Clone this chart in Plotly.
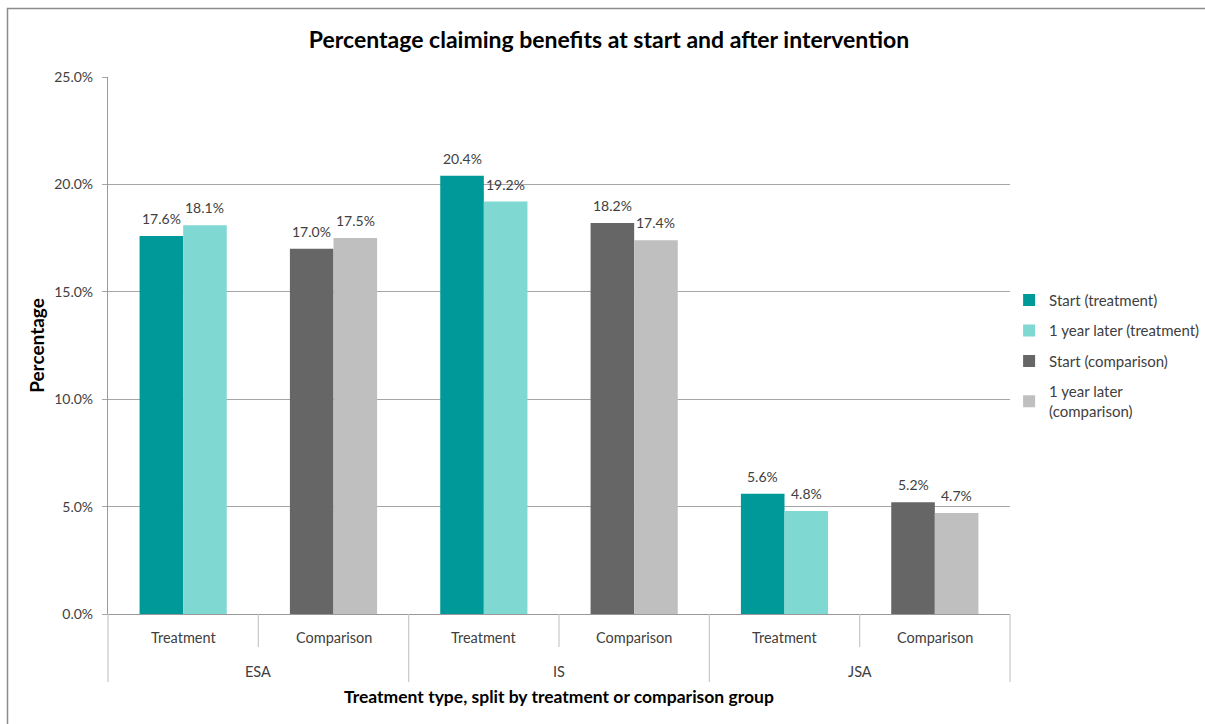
import plotly.graph_objects as go

# ---- data ----
groups = ["ESA", "ESA", "IS", "IS", "JSA", "JSA"]
subgroups = ["Treatment", "Comparison", "Treatment", "Comparison", "Treatment", "Comparison"]
group_names = ["ESA", "IS", "JSA"]

series_names = ["Start (treatment)", "1 year later (treatment)",
                "Start (comparison)", "1 year later<br>(comparison)"]
# treatment categories (indices 0, 2, 4)
start_treatment = [0.176, 0.204, 0.056]
later_treatment = [0.181, 0.192, 0.048]
# comparison categories (indices 1, 3, 5)
start_comparison = [0.170, 0.182, 0.052]
later_comparison = [0.175, 0.174, 0.047]

y_ticks = [0.0, 0.05, 0.10, 0.15, 0.20, 0.25]

# ---- style ----
colors = ["#009999", "#80D8D2", "#666666", "#BFBFBF"]
FONT = "Lato"
TXT = "#404040"
GRID = "#A6A6A6"
DIV = "#C8C8C8"
W = 0.29

treat_idx = [i for i, s in enumerate(subgroups) if s == "Treatment"]
comp_idx = [i for i, s in enumerate(subgroups) if s == "Comparison"]

fig = go.Figure()
trace_specs = [
    (treat_idx, start_treatment, -W),
    (treat_idx, later_treatment, 0.0),
    (comp_idx, start_comparison, -W),
    (comp_idx, later_comparison, 0.0),
]
annotations = []
for k, (xs, ys, off) in enumerate(trace_specs):
    fig.add_trace(go.Bar(
        x=xs, y=ys, name=series_names[k],
        width=W, offset=off,
        marker=dict(color=colors[k], line=dict(width=0)),
        legendgroup=f"g{k}",
        hoverinfo="skip",
    ))
    # value labels above the bars
    for xv, yv in zip(xs, ys):
        annotations.append(dict(x=xv + off + W / 2, y=yv, xref="x", yref="y",
                                text=f"{yv*100:.1f}%", showarrow=False,
                                xanchor="center", yanchor="bottom", yshift=7,
                                font=dict(family=FONT, size=14, color=TXT)))

n = len(subgroups)
# subgroup labels
for i, s in enumerate(subgroups):
    annotations.append(dict(x=i, y=-23 / 537, xref="x", yref="paper", text=s,
                            yanchor="middle", showarrow=False,
                            font=dict(family=FONT, size=14.5, color=TXT)))
# group labels
for g in group_names:
    idx = [i for i, gg in enumerate(groups) if gg == g]
    annotations.append(dict(x=(idx[0] + idx[-1]) / 2, y=-57 / 537, xref="x", yref="paper", text=g,
                            yanchor="middle", showarrow=False,
                            font=dict(family=FONT, size=14.5, color=TXT)))
# axis title
annotations.append(dict(x=0.5, y=-83 / 537, xref="paper", yref="paper",
                        text="<b>Treatment type, split by treatment or comparison group</b>",
                        yanchor="middle", showarrow=False,
                        font=dict(family=FONT, size=17.5, color="#000000")))

shapes = []
# dividers between categories
for b in range(n + 1):
    xp = b / n
    is_group_boundary = (b == 0 or b == n or groups[b - 1] != groups[b])
    y1 = -68 / 537 if is_group_boundary else -33 / 537
    shapes.append(dict(type="line", xref="paper", yref="paper", x0=xp, x1=xp, y0=0, y1=y1,
                       line=dict(color=DIV, width=1.2)))
# outer frame
shapes.append(dict(type="rect", xref="paper", yref="paper",
                   x0=(7.5 - 108) / 902, x1=1.25, y0=-0.25, y1=(614 - 8.5) / 537,
                   line=dict(color="#8C8C8C", width=1.5), fillcolor="rgba(0,0,0,0)", layer="below"))

fig.update_layout(
    width=1205, height=724,
    margin=dict(l=108, r=195, t=77, b=110, autoexpand=False),
    paper_bgcolor="white", plot_bgcolor="white",
    barmode="overlay",
    hovermode=False,
    title=dict(text="<b>Percentage claiming benefits at start and after intervention</b>",
               x=609 / 1205, xanchor="center", xref="container", y=1 - 40 / 724, yanchor="middle",
               font=dict(family=FONT, size=23, color="#000000")),
    xaxis=dict(range=[-0.5, n - 0.5], showticklabels=False, showgrid=False, zeroline=False,
               showline=True, linecolor="#999999", linewidth=1.2, ticks=""),
    yaxis=dict(range=[0, 0.25], tickvals=y_ticks, tickformat=".1%",
               showgrid=True, gridcolor=GRID, gridwidth=1, zeroline=False,
               showline=True, linecolor="#999999", linewidth=1.2,
               ticks="outside", ticklen=5, tickcolor=GRID, ticklabelstandoff=6,
               tickfont=dict(family=FONT, size=14, color=TXT),
               title=dict(text="<b>Percentage</b>", standoff=4,
                          font=dict(family=FONT, size=19, color="#000000"))),
    legend=dict(x=0.999, y=0.615, xanchor="left", yanchor="top",
                font=dict(family=FONT, size=15, color=TXT),
                itemwidth=30, tracegroupgap=8, bgcolor="rgba(0,0,0,0)"),
    annotations=annotations,
    shapes=shapes,
    showlegend=True,
)

fig.write_html("out.html", config={"displayModeBar": False},
               post_script="document.body.style.margin='0';")
